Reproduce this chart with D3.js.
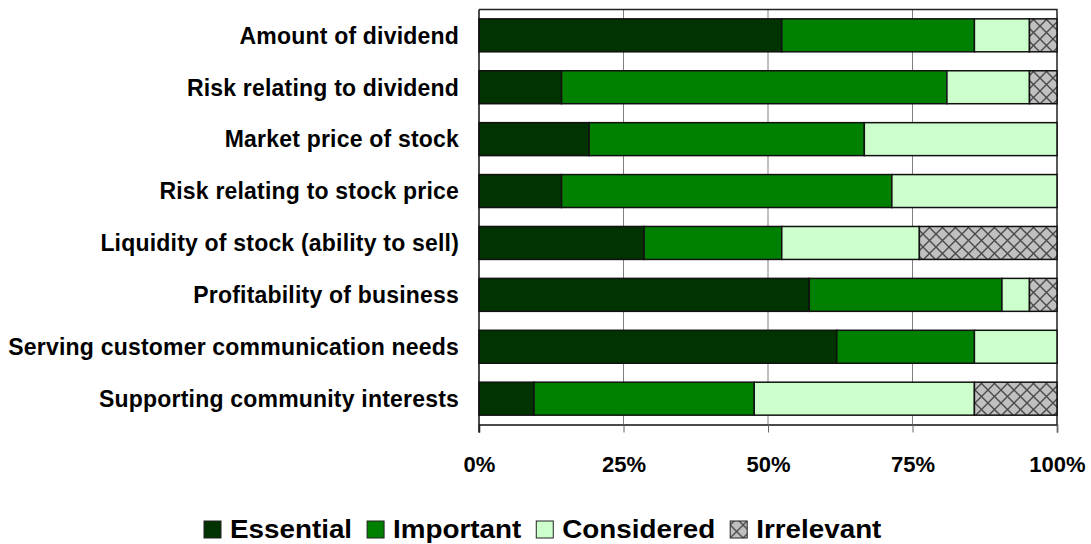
<!DOCTYPE html>
<html>
<head>
<meta charset="utf-8">
<script src="https://cdn.jsdelivr.net/npm/d3@7"></script>
<style>
  body { margin: 0; background: #fff; }
  text { font-family: Arial, "Liberation Sans", sans-serif; font-weight: bold; }
</style>
</head>
<body>
<script>
// answers out of 21 respondents
const categories = [
  'Amount of dividend',
  'Risk relating to dividend',
  'Market price of stock',
  'Risk relating to stock price',
  'Liquidity of stock (ability to sell)',
  'Profitability of business',
  'Serving customer communication needs',
  'Supporting community interests'
];
const seriesNames = ['Essential', 'Important', 'Considered', 'Irrelevant'];
const essential  = [11, 3, 4, 3, 6, 12, 13, 2];
const important  = [7, 14, 10, 12, 5, 7, 5, 8];
const considered = [2, 3, 7, 6, 5, 1, 3, 8];
const irrelevant = [1, 1, 0, 0, 5, 1, 0, 3];
const tickLabels = ['0%', '25%', '50%', '75%', '100%'];

const W = 1091, H = 544;
const margin = { left: 479, right: 34, top: 9.5, bottom: 120 };
const axisY = 424.5;

const svg = d3.select('body').append('svg')
  .attr('width', W)
  .attr('height', H);

// crosshatch for irrelevant
const defs = svg.append('defs');
const P = 13;
const pat = defs.append('pattern')
  .attr('id', 'hatch')
  .attr('patternUnits', 'userSpaceOnUse')
  .attr('width', P)
  .attr('height', P);
pat.append('rect').attr('width', P).attr('height', P).attr('fill', '#c0c0c0');
pat.append('path')
  .attr('d', `M0,0L${P},${P}M${P},0L0,${P}`)
  .attr('stroke', '#4a4a4a')
  .attr('stroke-width', 1.4);

const colors = d3.scaleOrdinal()
  .domain(seriesNames)
  .range(['#003300', '#008000', '#ccffcc', 'url(#hatch)']);

const rows = categories.map((c, i) => {
  const total = essential[i] + important[i] + considered[i] + irrelevant[i];
  return {
    cat: c,
    Essential: essential[i] / total,
    Important: important[i] / total,
    Considered: considered[i] / total,
    Irrelevant: irrelevant[i] / total
  };
});

const stacked = d3.stack().keys(seriesNames)(rows);

const x = d3.scaleLinear()
  .domain([0, 1])
  .range([margin.left, W - margin.right]);

const y = d3.scaleBand()
  .domain(categories)
  .range([margin.top, axisY])
  .paddingInner(0.365)
  .paddingOuter(0.18);

// gridlines
svg.append('g')
  .selectAll('line')
  .data([0.25, 0.5, 0.75])
  .join('line')
    .attr('x1', d => x(d)).attr('x2', d => x(d))
    .attr('y1', margin.top).attr('y2', axisY)
    .attr('stroke', '#808080')
    .attr('stroke-width', 1);

// plot frame (top + right)
svg.append('path')
  .attr('d', `M${x(0)},${margin.top}H${x(1)}V${axisY}`)
  .attr('fill', 'none')
  .attr('stroke', '#222')
  .attr('stroke-width', 1.5);

// bars
svg.append('g')
  .selectAll('g')
  .data(stacked)
  .join('g')
    .attr('fill', d => colors(d.key))
  .selectAll('rect')
  .data(d => d.filter(s => s[1] - s[0] > 0))
  .join('rect')
    .attr('x', d => x(d[0]))
    .attr('y', d => y(d.data.cat))
    .attr('width', d => x(d[1]) - x(d[0]))
    .attr('height', y.bandwidth())
    .attr('stroke', '#111')
    .attr('stroke-width', 1.5);

// x axis
const xAxis = svg.append('g')
  .attr('transform', `translate(0,${axisY})`)
  .call(d3.axisBottom(x).tickValues([0, 0.25, 0.5, 0.75, 1])
    .tickFormat((d, i) => tickLabels[i]).tickSize(8).tickPadding(24));
xAxis.select('.domain').attr('stroke', '#111').attr('stroke-width', 1.5);
xAxis.selectAll('.tick line').attr('stroke', '#666');
xAxis.selectAll('text')
  .attr('font-size', 22)
  .attr('fill', '#000');

// y labels
svg.append('g')
  .selectAll('text')
  .data(categories)
  .join('text')
    .attr('x', 459)
    .attr('y', d => y(d) + y.bandwidth() / 2)
    .attr('dy', '0.36em')
    .attr('text-anchor', 'end')
    .attr('font-size', 23)
    .attr('letter-spacing', 0.2)
    .text(d => d);

// left axis line
svg.append('line')
  .attr('x1', x(0)).attr('x2', x(0))
  .attr('y1', margin.top).attr('y2', axisY + 8)
  .attr('stroke', '#111')
  .attr('stroke-width', 1.5);

// legend, laid out left to right (text is a bit wider than tall)
const sx = 1.07;
const legend = svg.append('g').attr('transform', 'translate(0,538)');
let lx = 204;
seriesNames.forEach(key => {
  const g = legend.append('g').attr('transform', `translate(${lx},0)`);
  g.append('rect')
    .attr('x', 0).attr('y', -17)
    .attr('width', 17).attr('height', 17)
    .attr('fill', colors(key))
    .attr('stroke', '#222')
    .attr('stroke-width', 1);
  const t = g.append('text')
    .attr('transform', `translate(26,0) scale(${sx},1)`)
    .attr('font-size', 26)
    .text(key);
  lx += 26 + t.node().getComputedTextLength() * sx + 15;
});
</script>
</body>
</html>
